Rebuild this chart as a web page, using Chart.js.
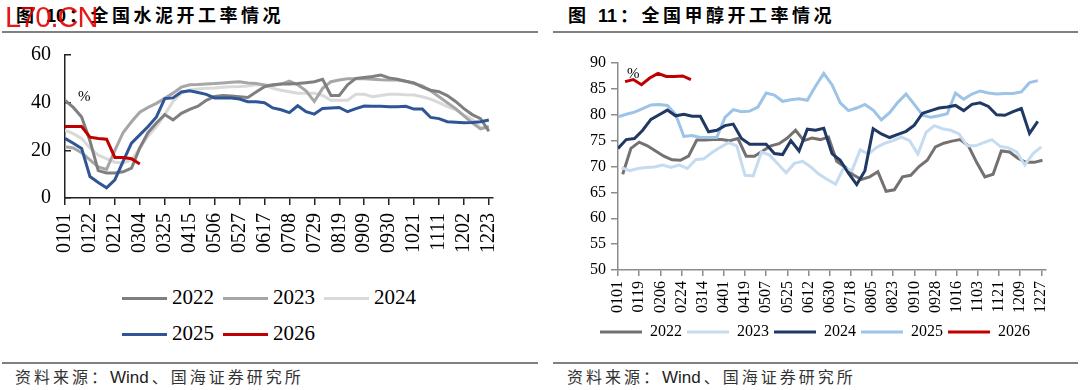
<!DOCTYPE html>
<html>
<head>
<meta charset="utf-8">
<script src="https://cdn.jsdelivr.net/npm/chart.js@4.4.1/dist/chart.umd.min.js"></script>
<style>
  body { margin: 0; width: 1080px; height: 390px; background: #fff; position: relative; overflow: hidden; }
  .abs { position: absolute; }
  .title { top: 6px; font-family: "Liberation Sans", "Noto Sans CJK SC", sans-serif; font-weight: bold; font-size: 18px; line-height: 20px; letter-spacing: 3.5px; color: #000; white-space: nowrap; }
  .title .num { letter-spacing: 0; margin-right: 3px; }
  .rule { height: 2px; background: #808080; }
  .src { top: 368px; font-family: "Liberation Sans", "Noto Sans CJK SC", sans-serif; font-size: 16px; line-height: 20px; letter-spacing: 3px; color: #333; white-space: nowrap; }
  .src .lat { letter-spacing: 0; font-size: 17px; margin-right: 3px; color: #222; }
  .pct { font-family: "Liberation Serif", serif; font-size: 15px; line-height: 15px; color: #000; }
  .mark { top: 2px; left: 5px; font-family: "Liberation Sans", sans-serif; font-size: 29px; line-height: 30px; letter-spacing: -1px; color: rgba(225, 0, 0, 0.9); }
  .lg-item { position: absolute; height: 24px; line-height: 24px; font-family: "Liberation Serif", serif; font-size: 21px; color: #000; white-space: nowrap; }
  .lg-line { display: inline-block; width: 45px; height: 3px; vertical-align: middle; margin-right: 5px; position: relative; top: -1px; }
</style>
</head>
<body>

<div class="abs title" style="left:16px">图 <span class="num">10</span>：全国水泥开工率情况</div>
<div class="abs title" style="left:568px">图 <span class="num">11</span>：全国甲醇开工率情况</div>
<div class="abs rule" style="left:2px; width:536px; top:31px"></div>
<div class="abs rule" style="left:553px; width:525px; top:31px"></div>

<canvas id="cement" class="abs" style="left:0; top:23px" width="540" height="242"></canvas>
<canvas id="methanol" class="abs" style="left:540px; top:40px" width="540" height="310"></canvas>

<div class="abs pct" style="left:78px; top:89px">%</div>
<div class="abs pct" style="left:627px; top:66px">%</div>

<div id="cementLegend" class="abs" style="left:122px; top:285px; width:320px; height:60px"></div>

<div class="abs rule" style="left:2px; width:536px; top:362px; height:1.5px"></div>
<div class="abs rule" style="left:553px; width:525px; top:362px; height:1.5px"></div>
<div class="abs src" style="left:15px">资料来源：<span class="lat">Wind</span>、国海证券研究所</div>
<div class="abs src" style="left:567px">资料来源：<span class="lat">Wind</span>、国海证券研究所</div>

<div class="abs mark">L70.CN</div>

<script>
// ---- cement: weekly, ticks every 3 weeks ----
const cementTicks = ['0101','0122','0212','0304','0325','0415','0506','0527','0617','0708','0729','0819','0909','0930','1021','1111','1202','1223'];
const cementYears = ['2022', '2023', '2024', '2025', '2026'];
const cement2022 = [41, 38, 34, 24, 11.5, 10.5, 10.5, 11, 12.5, 21, 27.5, 31.5, 35, 32.8, 35.5, 37.2, 38.5, 41, 42.6, 43, 42.8, 42.5, 42.2, 44.5, 46.7, 47.5, 47.8, 47.8, 48, 48.4, 48.8, 49.8, 43, 43, 47.5, 50.2, 50.6, 51, 51.6, 50.4, 49.8, 49, 48.3, 46.5, 45.2, 44.6, 43, 40.5, 37.5, 35, 33.3, 28];
const cement2023 = [21.5, 21, 19, 16, 13, 12, 20, 27.5, 32, 36, 38, 39.7, 41.8, 44, 46.5, 47.5, 47.6, 47.8, 48, 48.3, 48.6, 48.8, 48.3, 48, 47.4, 47.2, 47.8, 49, 47.5, 45, 40.5, 46, 48.8, 49.5, 50, 50, 50, 49.8, 49.6, 49.5, 49.5, 49, 48, 47, 45, 42.5, 40, 37.5, 34.5, 31.5, 29, 30];
const cement2024 = [28.5, 27, 25, 21, 18, 16.5, 15, 14.7, 16, 21, 26, 30, 35, 40.5, 44, 45.3, 45.7, 46, 46.2, 46.5, 46.7, 46.8, 47, 47.5, 47.5, 46, 45.2, 44.6, 44, 44, 44, 43, 41, 41, 41, 43.5, 43.5, 42.5, 43, 43.5, 43.5, 43.3, 43.2, 42.5, 41.5, 40, 38.3, 37, 34.8, 33, 29.5, 29.5];
const cement2025 = [25, 23, 20.8, 9, 6.5, 4.3, 7.6, 15.5, 23, 26.5, 30, 34, 41.7, 42, 44.5, 45, 44.3, 43.5, 42, 42, 42, 41.5, 40.4, 40.4, 40, 37.8, 37, 35.8, 38.7, 36.2, 35.2, 37.6, 37.8, 38, 36.2, 37.5, 38.6, 38.5, 38.5, 38.3, 38.3, 38.5, 37.3, 37.3, 33.8, 33.3, 32, 31.8, 31.6, 31.7, 32, 32.7];
const cement2026 = [30, 30, 30, 25.5, 25, 24.7, 17, 17, 16.5, 14.3];
const cementColors = ['#7f7f7f', '#a6a6a6', '#d9d9d9', '#2f5597', '#c00000'];

// ---- methanol: weekly points on a daily axis, ticks every 18 days ----
const methanolTicks = ['0101','0119','0206','0224','0314','0401','0419','0507','0525','0612','0630','0718','0805','0823','0910','0928','1016','1103','1121','1209','1227'];
const methanolYears = ['2022', '2023', '2024', '2025', '2026'];
const methanolStartDay = [4, 3, 0, 0, 6];
const methanol2022 = [68.5, 73.5, 74.7, 74.0, 73.0, 72.0, 71.3, 71.2, 72.0, 75.1, 75.1, 75.2, 75.2, 75.0, 75.4, 72.0, 72.0, 73.0, 74.0, 74.4, 75.5, 77.0, 75.0, 75.5, 75.2, 75.7, 71.0, 69.9, 68.4, 67.5, 68.0, 69.0, 65.2, 65.5, 68.0, 68.3, 70.0, 71.2, 73.8, 74.5, 74.9, 75.2, 74.0, 70.8, 68.0, 68.5, 73.0, 72.8, 71.6, 70.8, 70.8, 71.2];
const methanol2023 = [69.8, 69.2, 69.6, 69.8, 69.9, 70.3, 69.8, 70.3, 69.6, 71.3, 71.5, 72.7, 73.7, 74.6, 74.0, 68.3, 68.2, 72.8, 72.2, 70.5, 68.8, 70.6, 71.0, 69.9, 68.5, 67.5, 66.6, 69.8, 69.2, 73.2, 72.4, 73.7, 74.5, 75.0, 75.7, 75.0, 72.4, 76.6, 77.9, 77.3, 77.0, 76.3, 74.0, 74.0, 74.6, 75.2, 73.9, 73.6, 72.8, 70.3, 72.5, 73.8];
const methanol2024 = [73.5, 75.2, 75.4, 77.0, 79.1, 80.0, 80.9, 79.8, 80.1, 79.7, 79.7, 76.7, 77.0, 77.9, 78.2, 75.4, 74.3, 74.3, 74.3, 72.5, 72.3, 75.0, 73.0, 77.2, 77.0, 77.4, 72.5, 71.2, 68.7, 66.5, 69.2, 77.3, 76.3, 75.6, 76.2, 76.8, 78.0, 80.3, 80.8, 81.3, 81.5, 81.8, 80.8, 82.0, 82.3, 81.6, 80.0, 79.9, 80.6, 81.2, 76.4, 78.7];
const methanol2025 = [79.6, 80.1, 80.5, 81.2, 81.9, 82.0, 81.8, 80.1, 75.8, 76.0, 75.6, 75.6, 75.6, 79.5, 81.0, 80.6, 80.7, 81.5, 84.2, 83.8, 82.6, 82.9, 83.1, 82.8, 85.5, 88.0, 85.8, 82.3, 80.8, 81.3, 82.0, 80.9, 79.0, 80.4, 82.4, 84.0, 82.0, 79.9, 79.5, 79.8, 80.2, 84.2, 83.0, 84.0, 84.6, 84.2, 84.0, 84.1, 84.1, 84.4, 86.2, 86.6];
const methanol2026 = [86.4, 86.8, 85.8, 87.1, 88.0, 87.4, 87.4, 87.5, 86.8];
const methanolColors = ['#767171', '#c5dcf0', '#1f3864', '#9dc3e6', '#c00000'];

const serif = 'Liberation Serif';

// cement chart
const cementSeries = [cement2022, cement2023, cement2024, cement2025, cement2026];
const cementOrder = [3, 4, 5, 2, 1];
const cementChart = new Chart(document.getElementById('cement'), {
  type: 'line',
  data: {
    datasets: cementSeries.map((vals, s) => ({
      label: cementYears[s],
      data: vals.map((v, i) => ({ x: i, y: v })),
      borderColor: cementColors[s],
      backgroundColor: cementColors[s],
      borderWidth: 3,
      pointRadius: 0,
      tension: 0,
      order: cementOrder[s]
    }))
  },
  options: {
    responsive: false,
    animation: false,
    layout: { padding: { top: 0, right: 47, left: 0, bottom: 0 } },
    plugins: { legend: { display: false }, tooltip: { enabled: false } },
    scales: {
      x: {
        type: 'linear', min: 0, max: 51.5,
        afterBuildTicks: scale => { scale.ticks = cementTicks.map((_, i) => ({ value: i * 3 })); },
        afterFit: scale => { scale.height = 67; },
        ticks: {
          autoSkip: false, minRotation: 90, maxRotation: 90, padding: 8, color: '#000',
          font: { family: serif, size: 20 },
          callback: v => cementTicks[Math.round(v / 3)]
        },
        grid: { drawOnChartArea: false, drawTicks: true, tickLength: 7, color: '#222', lineWidth: 1.5 },
        border: { display: true, color: '#222', width: 1.5 }
      },
      y: {
        min: 0, max: 60,
        afterFit: scale => { scale.width = 65; },
        ticks: { stepSize: 20, padding: 20, color: '#000', font: { family: serif, size: 20 } },
        grid: { drawOnChartArea: false, drawTicks: true, tickLength: -6, color: '#222', lineWidth: 1.5 },
        border: { display: true, color: '#222', width: 1.5 }
      }
    }
  }
});

// cement legend: two left-aligned rows, as in the source
const legendBox = document.getElementById('cementLegend');
cementChart.data.datasets.forEach((ds, i) => {
  const item = document.createElement('div');
  item.className = 'lg-item';
  item.style.left = (i % 3) * 101 + 'px';
  item.style.top = Math.floor(i / 3) * 36 + 'px';
  item.innerHTML = '<span class="lg-line" style="background:' + ds.borderColor + '"></span>' + ds.label;
  legendBox.appendChild(item);
});

// methanol chart
const methanolSeries = [methanol2022, methanol2023, methanol2024, methanol2025, methanol2026];
const methanolOrder = [5, 4, 2, 3, 1];
new Chart(document.getElementById('methanol'), {
  type: 'line',
  data: {
    datasets: methanolSeries.map((vals, s) => ({
      label: methanolYears[s],
      data: vals.map((v, k) => ({ x: methanolStartDay[s] + 7 * k, y: v })),
      borderColor: methanolColors[s],
      backgroundColor: methanolColors[s],
      borderWidth: 3,
      pointRadius: 0,
      tension: 0,
      order: methanolOrder[s]
    }))
  },
  options: {
    responsive: false,
    animation: false,
    layout: { padding: { top: 23, right: 34, left: 44, bottom: 0 } },
    plugins: {
      tooltip: { enabled: false },
      legend: {
        position: 'bottom',
        labels: {
          usePointStyle: true, pointStyle: 'line', pointStyleWidth: 42, padding: 5,
          color: '#000', font: { family: serif, size: 16 },
          sort: (a, b) => a.datasetIndex - b.datasetIndex
        }
      }
    },
    scales: {
      x: {
        type: 'linear', min: 0, max: 364,
        afterBuildTicks: scale => { scale.ticks = methanolTicks.map((_, i) => ({ value: i * 18 })); },
        afterFit: scale => { scale.height = 49; },
        ticks: {
          autoSkip: false, minRotation: 90, maxRotation: 90, padding: 5, color: '#000',
          font: { family: serif, size: 16 },
          callback: v => methanolTicks[Math.round(v / 18)]
        },
        grid: { drawOnChartArea: false, drawTicks: true, tickLength: 6, color: '#8c8c8c', lineWidth: 1.5 },
        border: { display: true, color: '#8c8c8c', width: 1.5 }
      },
      y: {
        min: 50, max: 90,
        afterFit: scale => { scale.width = 34; },
        ticks: { stepSize: 5, padding: 5, color: '#000', font: { family: serif, size: 16 } },
        grid: { drawOnChartArea: false, drawTicks: true, tickLength: 7, color: '#8c8c8c', lineWidth: 1.5 },
        border: { display: true, color: '#8c8c8c', width: 1.5 }
      }
    }
  }
});
</script>
</body>
</html>
